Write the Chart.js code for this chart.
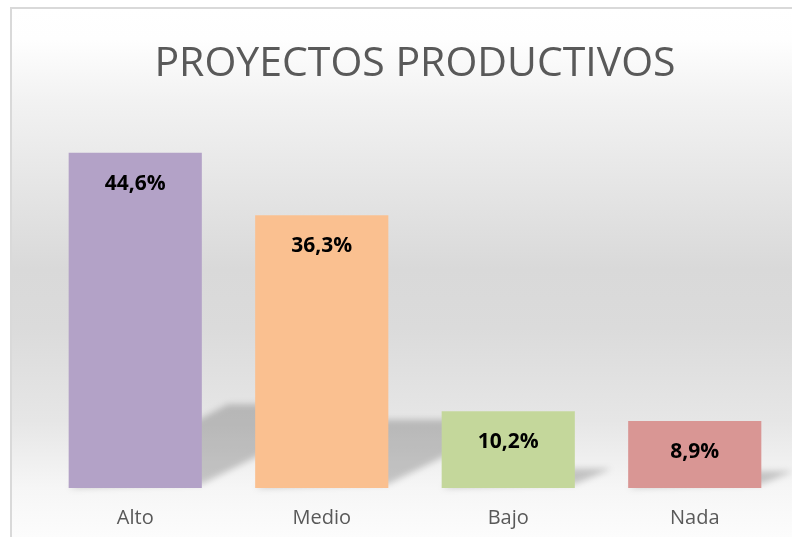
<!DOCTYPE html>
<html>
<head>
<meta charset="utf-8">
<script src="https://cdn.jsdelivr.net/npm/chart.js@4.4.1/dist/chart.umd.min.js"></script>
<style>
  html, body { margin: 0; padding: 0; background: #fff; }
  #wrap { width: 792px; height: 537px; }
</style>
</head>
<body>
<div id="wrap"><canvas id="grafico"></canvas></div>
<script>
const categorias = ["Alto", "Medio", "Bajo", "Nada"];
const porcentajes = [44.6, 36.3, 10.2, 8.9];
const etiquetas = ["44,6%", "36,3%", "10,2%", "8,9%"];
const colores = ["#b3a2c7", "#fac090", "#c4d79b", "#d99694"];

// fondo con degradado y borde del grafico
const fondo = {
  id: "fondo",
  beforeDraw(chart) {
    const ctx = chart.ctx;
    const w = chart.width, h = chart.height;
    ctx.save();
    ctx.fillStyle = "#fff";
    ctx.fillRect(0, 0, w, h);
    const g = ctx.createLinearGradient(0, 8, 0, h);
    g.addColorStop(0, "#ffffff");
    g.addColorStop(0.06, "#fefefe");
    g.addColorStop(0.174, "#f2f2f2");
    g.addColorStop(0.495, "#d9d9d9");
    g.addColorStop(0.605, "#dbdbdb");
    g.addColorStop(0.78, "#e6e6e6");
    g.addColorStop(0.907, "#f6f6f6");
    g.addColorStop(1, "#fcfcfc");
    ctx.fillStyle = g;
    ctx.fillRect(11, 8, w - 11, h - 8);
    ctx.strokeStyle = "#d9d9d9";
    ctx.lineWidth = 2;
    ctx.beginPath();
    ctx.moveTo(11, h);
    ctx.lineTo(11, 8);
    ctx.lineTo(w, 8);
    ctx.stroke();
    ctx.restore();
  }
};

// sombra en perspectiva detras de cada barra
const sombras = {
  id: "sombras",
  beforeDatasetsDraw(chart) {
    const ctx = chart.ctx;
    const meta = chart.getDatasetMeta(0);
    ctx.save();
    ctx.filter = "blur(3px)";
    ctx.fillStyle = "rgba(0,0,0,0.2)";
    meta.data.forEach(bar => {
      const alto = bar.base - bar.y;
      const sh = alto * 0.25;
      const dx = sh * 1.9;
      const izq = bar.x - bar.width / 2;
      const der = bar.x + bar.width / 2;
      ctx.beginPath();
      ctx.moveTo(izq, bar.base);
      ctx.lineTo(der, bar.base - 4);
      ctx.lineTo(der + dx, bar.base - sh);
      ctx.lineTo(izq + dx, bar.base - sh);
      ctx.closePath();
      ctx.fill();
    });
    ctx.restore();
  }
};

const valores = {
  id: "valores",
  afterDatasetsDraw(chart) {
    const ctx = chart.ctx;
    const meta = chart.getDatasetMeta(0);
    ctx.save();
    ctx.font = "bold 21px 'Open Sans'";
    ctx.fillStyle = "#000";
    ctx.textAlign = "center";
    ctx.textBaseline = "middle";
    meta.data.forEach((bar, i) => {
      ctx.fillText(etiquetas[i], bar.x, bar.y + 31);
    });
    ctx.restore();
  }
};

new Chart(document.getElementById("grafico"), {
  type: "bar",
  data: {
    labels: categorias,
    datasets: [{
      data: porcentajes,
      backgroundColor: colores,
      borderWidth: 0,
      barPercentage: 0.714,
      categoryPercentage: 1
    }]
  },
  options: {
    responsive: true,
    maintainAspectRatio: false,
    animation: false,
    layout: { padding: { left: 42, right: 4, top: 0, bottom: -11 } },
    plugins: {
      legend: { display: false },
      tooltip: { enabled: false },
      title: {
        display: true,
        text: "PROYECTOS PRODUCTIVOS",
        color: "#595959",
        font: { family: "'Open Sans'", size: 41, weight: "normal" },
        padding: { top: 40, bottom: 23 }
      }
    },
    scales: {
      x: {
        grid: { display: false, drawTicks: false },
        border: { display: false },
        ticks: {
          color: "#595959",
          padding: 18,
          font: { family: "'Open Sans'", size: 20 }
        }
      },
      y: {
        display: false,
        min: 0,
        max: 50
      }
    }
  },
  plugins: [fondo, sombras, valores]
});
</script>
</body>
</html>
